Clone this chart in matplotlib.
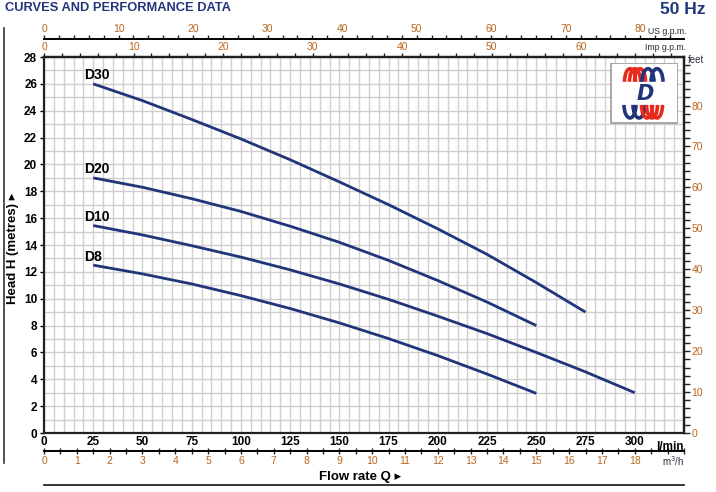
import numpy as np
import matplotlib
matplotlib.use("Agg")
import matplotlib.pyplot as plt
from matplotlib.patches import Rectangle, Arc
from matplotlib.lines import Line2D
from matplotlib import font_manager

# ---------------- data ----------------
flow_lmin = [25, 50, 75, 100, 125, 150, 175, 200, 225, 250, 275, 300]
d30_head = [26.0, 24.75, 23.35, 21.9, 20.35, 18.7, 17.0, 15.2, 13.3, 11.2, 9.0]
d20_head = [19.0, 18.3, 17.45, 16.5, 15.4, 14.2, 12.85, 11.35, 9.75, 8.0]
d10_head = [15.45, 14.75, 13.95, 13.1, 12.15, 11.1, 9.95, 8.7, 7.4, 6.0, 4.55, 3.0]
d8_head = [12.5, 11.85, 11.1, 10.23, 9.27, 8.2, 7.03, 5.76, 4.39, 2.95]
curve_names = ["D30", "D20", "D10", "D8"]
curve_heads = [d30_head, d20_head, d10_head, d8_head]

lmin_ticks = [0, 25, 50, 75, 100, 125, 150, 175, 200, 225, 250, 275, 300]
head_ticks = list(range(0, 29, 2))
m3h_ticks = list(range(0, 19))
usgpm_ticks = list(range(0, 81, 10))
impgpm_ticks = list(range(0, 61, 10))
feet_ticks = list(range(0, 81, 10))

NAVY = "#22357a"
ORANGE = "#b8661f"
DARK = "#2a2a3a"
GRID = "#cfcfcf"

names = {f.name for f in font_manager.fontManager.ttflist}
NARROW = ["Liberation Sans Narrow", "Liberation Sans"] if "Liberation Sans Narrow" in names else ["Liberation Sans"]

W, H = 716, 492
fig = plt.figure(figsize=(W / 100, H / 100), dpi=100)
fig.patch.set_facecolor("white")

def fx(px):
    return px / W

def fy(py):
    return 1 - py / H

L, R, T, B = 44, 684, 57, 433
ax = fig.add_axes([fx(L), fy(B), (R - L) / W, (B - T) / H])
ax.set_xlim(0, 325)
ax.set_ylim(0, 28)

ax.set_xticks(lmin_ticks)
ax.set_xticks(np.arange(0, 326, 5), minor=True)
ax.set_yticks(head_ticks)
ax.set_yticks(np.arange(0, 29, 1), minor=True)
ax.grid(which="both", color=GRID, linewidth=1.0)
ax.set_axisbelow(True)
ax.tick_params(which="minor", length=0)
ax.tick_params(axis="x", which="major", length=0, pad=2.5)
ax.tick_params(axis="y", which="major", length=3, width=1, pad=2)
for lab in ax.get_xticklabels() + ax.get_yticklabels():
    lab.set_fontweight("bold")
    lab.set_fontsize(8.5)
    lab.set_family(NARROW)
for s in ax.spines.values():
    s.set_linewidth(1.6)
    s.set_color("#222222")

# curves
for name, heads in zip(curve_names, curve_heads):
    xs = flow_lmin[: len(heads)]
    ax.plot(xs, heads, color=NAVY, linewidth=2.0, solid_capstyle="butt",
            solid_joinstyle="round", zorder=3)
    ax.text(xs[0] - 4.8, heads[0] + 0.12, name, fontsize=10, fontweight="bold",
            family=NARROW, color="black", ha="left", va="bottom")

# l/min label
ax.text(1.0, -0.02, "l/min", transform=ax.transAxes, ha="right", va="top",
        fontsize=8.5, fontweight="bold", family=NARROW, color="black")

def style_secondary(sec, axname, major, minor, direction="out", length=3, pad=1.0):
    if axname == "x":
        sec.set_xticks(major)
        sec.set_xticks(minor, minor=True)
        labels = sec.get_xticklabels()
    else:
        sec.set_yticks(major)
        sec.set_yticks(minor, minor=True)
        labels = sec.get_yticklabels()
    sec.tick_params(axis=axname, which="both", direction=direction, length=length, width=1,
                    colors="#222222", labelcolor=ORANGE, labelsize=7.5, pad=pad)
    for lab in labels:
        lab.set_family(NARROW)

# Imp gpm on top spine
imp = ax.secondary_xaxis("top", functions=(lambda q: q / 4.546, lambda g: g * 4.546))
style_secondary(imp, "x", impgpm_ticks, np.arange(0, 71, 2), pad=0.5)
imp.spines["top"].set_linewidth(1.6)

# US gpm above
us_loc = 1 + (T - 39) / (B - T)
us = ax.secondary_xaxis(us_loc, functions=(lambda q: q / 3.785, lambda g: g * 3.785))
style_secondary(us, "x", usgpm_ticks, np.arange(0, 85, 2), pad=0.5)
us.spines["top"].set_linewidth(1.4)

# m3/h below
m3_loc = -(451 - B) / (B - T)
m3 = ax.secondary_xaxis(m3_loc, functions=(lambda q: q * 0.06, lambda m: m / 0.06))
style_secondary(m3, "x", m3h_ticks, np.arange(0, 19.6, 0.5), direction="inout", length=5)
m3.spines["bottom"].set_linewidth(1.4)

# feet on right
ft = ax.secondary_yaxis("right", functions=(lambda m: m * 3.2808, lambda f: f / 3.2808))
style_secondary(ft, "y", feet_ticks, np.arange(0, 91, 2), length=4.5)
ft.spines["right"].set_linewidth(1.6)

# unit labels
fig.text(fx(686), fy(31), "US g.p.m.", ha="right", va="center", fontsize=6.3,
         family=NARROW, color=DARK)
fig.text(fx(686), fy(47), "Imp g.p.m.", ha="right", va="center", fontsize=6.3,
         family=NARROW, color=DARK)
fig.text(fx(688), fy(60), "feet", ha="left", va="center", fontsize=7,
         family=NARROW, color=DARK)
fig.text(fx(684), fy(461), "m$^3$/h", ha="right", va="center", fontsize=7,
         family=NARROW, color=DARK)

# titles
fig.text(fx(5), fy(8), "CURVES AND PERFORMANCE DATA", ha="left", va="center",
         fontsize=9.3, fontweight="bold", family=NARROW, color=NAVY)
fig.text(fx(706), fy(9), "50 Hz", ha="right", va="center",
         fontsize=12.5, fontweight="bold", family=NARROW, color=NAVY)

# axis titles
fig.text(fx(13), fy(248), "Head H (metres) \u25B8", rotation=90, ha="center", va="center",
         fontsize=9.5, fontweight="bold", family=NARROW + ["DejaVu Sans"], color="black")
fig.text(fx(360), fy(477), "Flow rate Q \u25B8", ha="center", va="center",
         fontsize=9.5, fontweight="bold", family=NARROW + ["DejaVu Sans"], color="black")

# frame lines
fig.add_artist(Line2D([fx(4), fx(4)], [fy(28), fy(463)], color="#333333", linewidth=1.2))
fig.add_artist(Line2D([fx(44), fx(684)], [fy(485), fy(485)], color="#111111", linewidth=1.2))

# logo
lax = fig.add_axes([fx(610), fy(124), 68 / W, 61.3 / H])
lax.set_xlim(0, 68)
lax.set_ylim(0, 61)
lax.axis("off")
lax.add_patch(Rectangle((0.5, 0.5), 67, 60, facecolor="white", edgecolor="#999999", linewidth=1.2))
RED = "#e8291c"
for cx, col in [(20, RED), (25, RED), (30, RED), (38, NAVY), (47, NAVY)]:
    lax.add_patch(Arc((cx, 42), 11 if col == RED else 12, 26, theta1=0, theta2=180,
                      color=col, linewidth=2.6))
for cx, col in [(20, NAVY), (29, NAVY), (37, RED), (42, RED), (47, RED)]:
    lax.add_patch(Arc((cx, 19), 12 if col == NAVY else 11, 26, theta1=180, theta2=360,
                      color=col, linewidth=2.6))
lax.text(35, 30, "D", ha="center", va="center", fontsize=15, fontweight="bold",
         fontstyle="italic", color=NAVY, family="DejaVu Sans")

fig.savefig("out.png", dpi=100)
